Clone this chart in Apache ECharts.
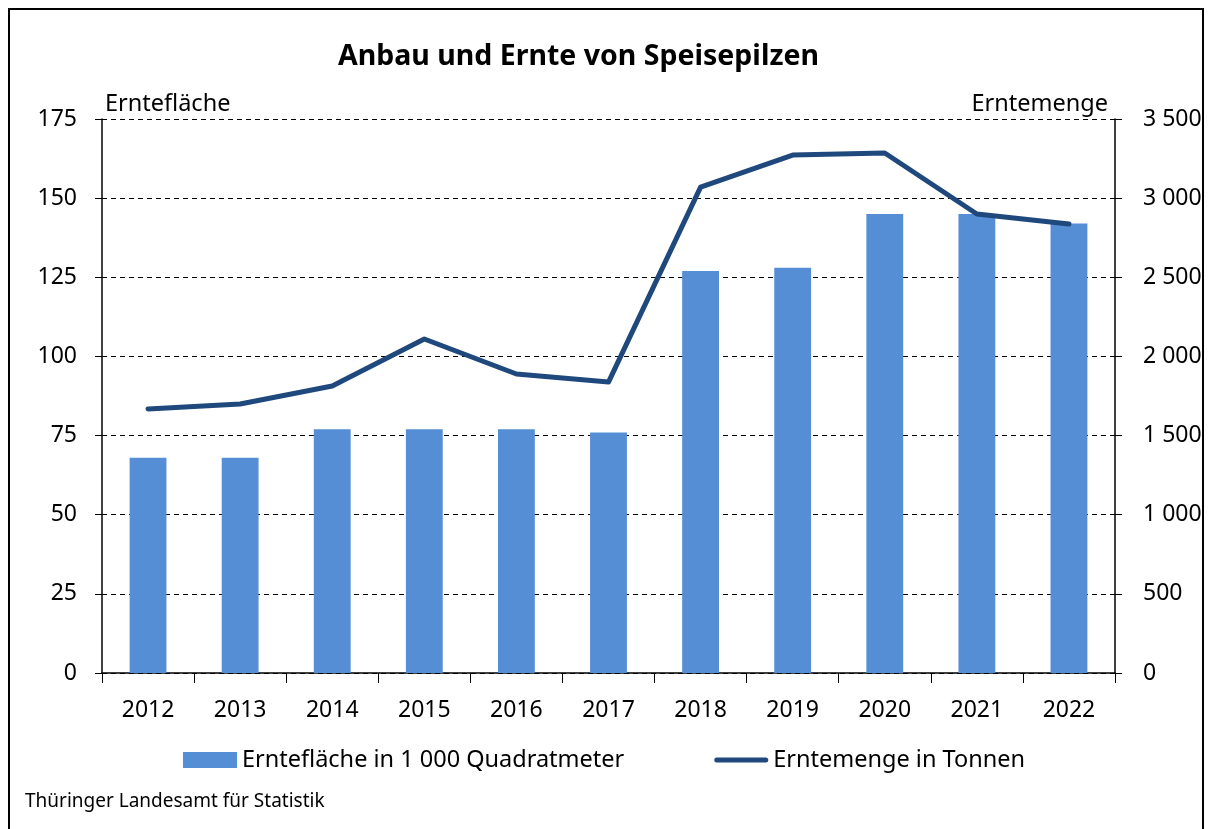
<!DOCTYPE html>
<html>
<head>
<meta charset="utf-8">
<script src="https://cdn.jsdelivr.net/npm/echarts@6/dist/echarts.min.js"></script>
<style>
  html, body { margin: 0; padding: 0; background: #fff; }
  #chart { width: 1208px; height: 829px; }
</style>
</head>
<body>
<div id="chart"></div>
<script>
// Anbau und Ernte von Speisepilzen
const years = ['2012', '2013', '2014', '2015', '2016', '2017', '2018', '2019', '2020', '2021', '2022'];
const flaeche = [68, 68, 77, 77, 77, 76, 127, 128, 145, 145, 142];
const menge = [1668, 1699, 1813, 2110, 1889, 1838, 3070, 3272, 3285, 2900, 2837];
const leftTicks = [0, 25, 50, 75, 100, 125, 150, 175];
const rightTicks = [0, 500, 1000, 1500, 2000, 2500, 3000, 3500];

const font = '"Noto Sans", sans-serif';
const fmt = v => String(v).replace(/\B(?=(\d{3})+(?!\d))/g, ' ');

const chart = echarts.init(document.getElementById('chart'));

chart.setOption({
  animation: false,
  textStyle: { fontFamily: font, color: '#000' },
  title: {
    text: 'Anbau und Ernte von Speisepilzen',
    left: 333,
    top: 37,
    textStyle: { fontSize: 28.5, fontWeight: 'bold', color: '#000', fontFamily: font }
  },
  grid: { left: 102, right: 93, top: 119, bottom: 156 },
  legend: {
    bottom: 52,
    left: 'center',
    itemWidth: 54,
    itemHeight: 16,
    itemGap: 90,
    symbolKeepAspect: true,
    textStyle: { fontSize: 23.5, color: '#000', fontFamily: font },
    data: [
      { name: 'Erntefläche in 1 000 Quadratmeter', icon: 'rect' },
      { name: 'Erntemenge in Tonnen', icon: 'path://M2.5,0 H51.5 A2.5,2.5 0 0 1 51.5,5 H2.5 A2.5,2.5 0 0 1 2.5,0 Z' }
    ]
  },
  xAxis: {
    type: 'category',
    data: years,
    axisLine: { lineStyle: { color: '#000', width: 1.5 } },
    axisTick: { show: true, length: 10, lineStyle: { color: '#000' } },
    axisLabel: { fontSize: 23, color: '#000', margin: 26 }
  },
  yAxis: [
    {
      type: 'value',
      min: 0, max: 175, interval: 25,
      axisLine: { show: true, lineStyle: { color: '#000', width: 1.5 } },
      axisTick: { show: true, length: 7, lineStyle: { color: '#000' } },
      axisLabel: { fontSize: 23, color: '#000', margin: 25 },
      splitLine: { show: true, lineStyle: { color: '#000', type: [5, 4], width: 1 } }
    },
    {
      type: 'value',
      min: 0, max: 3500, interval: 500,
      position: 'right',
      axisLine: { show: true, lineStyle: { color: '#000', width: 1.5 } },
      axisTick: { show: true, length: 7, lineStyle: { color: '#000' } },
      axisLabel: { fontSize: 23, color: '#000', margin: 28, formatter: fmt },
      splitLine: { show: false }
    }
  ],
  series: [
    {
      name: 'Erntefläche in 1 000 Quadratmeter',
      type: 'bar',
      data: flaeche,
      barWidth: '40%',
      itemStyle: { color: '#558ED5' }
    },
    {
      name: 'Erntemenge in Tonnen',
      type: 'line',
      yAxisIndex: 1,
      data: menge,
      symbol: 'none',
      lineStyle: { color: '#1F497D', width: 5, cap: 'round', join: 'round' },
      itemStyle: { color: '#1F497D' }
    }
  ],
  graphic: [
    {
      type: 'rect',
      shape: { x: 9, y: 9, width: 1194, height: 840 },
      style: { fill: 'none', stroke: '#000', lineWidth: 2 },
      silent: true
    },
    {
      type: 'text', left: 105, top: 92,
      style: { text: 'Erntefläche', font: '23.5px ' + font, fill: '#000' }
    },
    {
      type: 'text', right: 100, top: 92,
      style: { text: 'Erntemenge', font: '23.5px ' + font, fill: '#000' }
    },
    {
      type: 'text', left: 25, top: 792,
      style: { text: 'Thüringer Landesamt für Statistik', font: '19px ' + font, fill: '#000' }
    }
  ]
});
</script>
</body>
</html>
